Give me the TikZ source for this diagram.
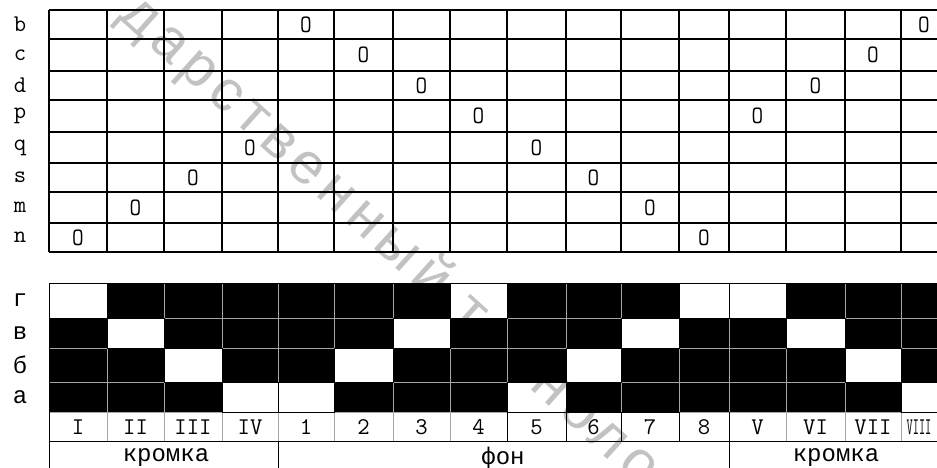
\documentclass[tikz,border=0pt]{standalone}
\usepackage{fontspec}
\setmainfont{Liberation Mono}
\newfontfamily\cyrfont{Liberation Mono}
\newfontfamily\wmfont[LetterSpace=12]{Liberation Sans}
\begin{document}
\begin{tikzpicture}[x=1pt,y=-1pt,
  gridline/.style={line width=1.4pt,black},
  grayline/.style={line width=0.8pt,color=black!35},
  blackline/.style={line width=1pt,black},
  lab/.style={font=\ttfamily\fontsize{24}{24}\selectfont,inner sep=0pt},
  cyrlab/.style={font=\cyrfont\fontsize{24}{24}\selectfont,inner sep=0pt},
  omark/.style={font=\ttfamily\fontsize{25}{25}\selectfont,inner sep=0pt,xscale=0.9},
  wmark/.style={font=\wmfont\fontsize{58}{58}\selectfont,text=black!24,inner sep=0pt}]
\useasboundingbox (0,0) rectangle (937,468);
\clip (0,0) rectangle (937,468);
\fill[white] (0,0) rectangle (937,468);
% watermark
\node[wmark,rotate=-42,anchor=base west] (wm) at (117,17) {дарственный технолог};
% ---------- lower draft: black cells ----------
\foreach \c/\l/\r/\w in {1/49/107/1,2/107/164/2,3/164/222/3,4/222/278/4,5/278/334/4,6/334/393/3,7/393/450/2,8/450/507/1,9/507/566/4,10/566/621/3,11/621/679/2,12/679/729/1,13/729/786/1,14/786/845/2,15/845/901/3,16/901/958/4}{
  \foreach \rr/\t/\b in {1/283/318,2/318/348,3/348/382,4/382/412}{
    \ifnum\rr=\w\relax\else\fill[black] (\l,\t) rectangle (\r,\b);\fi
  }
}
% gray separators
\foreach \x in {107,164,222,278,334,393,450,507,566,621,679,729,786,845,901}
  \draw[grayline] (\x,283) -- (\x,441);
\foreach \y in {318,348,382,412}
  \draw[grayline] (49,\y) -- (937,\y);
% white cells outlined
\foreach \c/\l/\r/\w in {1/49/107/1,2/107/164/2,3/164/222/3,4/222/278/4,5/278/334/4,6/334/393/3,7/393/450/2,8/450/507/1,9/507/566/4,10/566/621/3,11/621/679/2,12/679/729/1,13/729/786/1,14/786/845/2,15/845/901/3,16/901/958/4}{
  \foreach \rr/\t/\b in {1/283/318,2/318/348,3/348/382,4/382/412}{
    \ifnum\rr=\w\relax\draw[blackline] (\l,\t) rectangle (\r,\b);\fi
  }
}
% black borders of lower table
\draw[blackline] (49,283) -- (937,283);
\draw[blackline] (49,283) -- (49,468);
\draw[blackline] (49,441) -- (937,441);
\draw[blackline] (507,412) rectangle (679,441);
\foreach \x in {566,621}
  \draw[blackline] (\x,412) -- (\x,441);
\draw[blackline] (278,441) -- (278,468);
\draw[blackline] (729,412) -- (729,468);
% ---------- upper draft ----------
\foreach \y in {10,39,71,100,132,163,192,223,252}
  \draw[gridline] (49,\y) -- (937,\y);
\foreach \x in {49,107,164,222,278,334,393,450,507,566,621,679,729,786,845,901}
  \draw[gridline] (\x,10) -- (\x,252);
% marks
\foreach \c/\x/\y in {1/78/237.5,2/135.5/207.5,3/193/177.5,4/250/147.5,5/306/24.5,6/363.5/55,7/421.5/85.5,8/478.5/116,9/536.5/147.5,10/593.5/177.5,11/650/207.5,12/704/237.5,13/757.5/116,14/815.5/85.5,15/873/55,16/924/24.5}
  \node[omark] (o\c) at (\x,\y) {O};
% row labels
\foreach \n/\t/\y in {b/b/24.5,c/c/55,d/d/85.5,p/p/116,q/q/147.5,s/s/177.5,m/m/207.5,n/n/237.5}
  \node[lab] (r\n) at (20,\y) {\t};
\foreach \n/\t/\y in {g/г/300.5,v/в/333,bb/б/365,a/а/397}
  \node[cyrlab] (l\n) at (20,\y) {\t};
% numbers
\foreach \c/\x/\t in {1/78/I,2/135.5/II,3/193/III,4/250/IV,5/306/1,6/363.5/2,7/421.5/3,8/478.5/4,9/536.5/5,10/593.5/6,11/650/7,12/704/8,13/757.5/V,14/815.5/VI,15/873/VII}
  \node[lab] (n\c) at (\x,427) {\t};
\node[lab,xscale=0.5] (n16) at (919,427) {VIII};
% bottom labels
\node[cyrlab] (k1) at (166,458) {кромка};
\node[cyrlab] (fon) at (503,458) {фон};
\node[cyrlab] (k2) at (836,458) {кромка};
\end{tikzpicture}
\end{document}
